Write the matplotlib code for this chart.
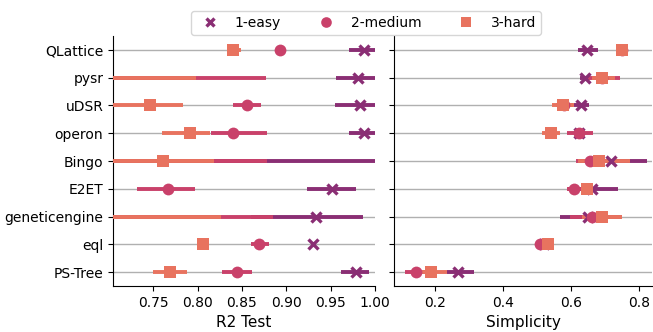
import numpy as np
import matplotlib.pyplot as plt

methods = ['QLattice', 'pysr', 'uDSR', 'operon', 'Bingo', 'E2ET',
           'geneticengine', 'eql', 'PS-Tree']
levels = ['1-easy', '2-medium', '3-hard']
colors = ['#8a2e74', '#c9416a', '#e8735f']
markers = ['x', 'o', 's']

# R2 test: mean, lower and upper ends of the interval, per difficulty
r2_mean = {
    '1-easy':   [0.988, 0.981, 0.983, 0.988, 0.60, 0.952, 0.934, 0.930, 0.979],
    '2-medium': [0.893, 0.55, 0.856, 0.840, 0.55, 0.767, 0.50, 0.869, 0.844],
    '3-hard':   [0.840, 0.40, 0.746, 0.791, 0.761, 0.40, 0.30, 0.806, 0.769],
}
r2_lo = {
    '1-easy':   [0.971, 0.956, 0.955, 0.971, 0.20, 0.923, 0.860, 0.929, 0.962],
    '2-medium': [0.889, 0.10, 0.840, 0.815, 0.10, 0.732, 0.00, 0.860, 0.828],
    '3-hard':   [0.834, -0.20, 0.60, 0.760, 0.60, 0.20, -0.50, 0.805, 0.750],
}
r2_hi = {
    '1-easy':   [1.005, 1.005, 1.005, 1.005, 1.005, 0.979, 0.986, 0.931, 0.993],
    '2-medium': [0.897, 0.877, 0.872, 0.878, 0.878, 0.7965, 0.885, 0.880, 0.861],
    '3-hard':   [0.849, 0.798, 0.783, 0.8145, 0.818, 0.60, 0.826, 0.807, 0.788],
}

# Simplicity: mean, lower and upper ends of the interval, per difficulty
simp_mean = {
    '1-easy':   [0.647, 0.641, 0.628, 0.623, 0.717, 0.660, 0.650, 0.520, 0.267],
    '2-medium': [0.748, 0.690, 0.580, 0.623, 0.655, 0.609, 0.660, 0.508, 0.146],
    '3-hard':   [0.748, 0.691, 0.577, 0.541, 0.683, 0.647, 0.690, 0.533, 0.190],
}
simp_lo = {
    '1-easy':   [0.619, 0.626, 0.609, 0.610, 0.640, 0.590, 0.567, 0.515, 0.236],
    '2-medium': [0.740, 0.650, 0.555, 0.587, 0.613, 0.587, 0.596, 0.505, 0.112],
    '3-hard':   [0.740, 0.660, 0.543, 0.515, 0.621, 0.630, 0.633, 0.530, 0.151],
}
simp_hi = {
    '1-easy':   [0.678, 0.655, 0.652, 0.640, 0.822, 0.738, 0.740, 0.525, 0.3155],
    '2-medium': [0.756, 0.743, 0.605, 0.665, 0.700, 0.630, 0.750, 0.511, 0.180],
    '3-hard':   [0.756, 0.7286, 0.609, 0.567, 0.7727, 0.665, 0.750, 0.536, 0.236],
}

fig = plt.figure(figsize=(6.53, 3.32), dpi=100)
ax1 = fig.add_axes([113 / 653, 46 / 332, 262 / 653, 250 / 332])
ax2 = fig.add_axes([394 / 653, 46 / 332, 258 / 653, 250 / 332])

y = np.arange(len(methods))


def draw(ax, mean, lo, hi):
    for lev, c, m in zip(levels, colors, markers):
        mu = np.array(mean[lev])
        err = np.vstack([mu - np.array(lo[lev]), np.array(hi[lev]) - mu])
        ax.errorbar(mu, y, xerr=err, fmt='none', ecolor=c, elinewidth=2.8,
                    capsize=0, zorder=3)
        if m == 'x':
            ax.plot(mu, y, ls='none', marker=m, color=c, ms=7, mew=2.4,
                    zorder=4, label=lev)
        else:
            ax.plot(mu, y, ls='none', marker=m, color=c, ms=8.5, mew=0,
                    zorder=4, label=lev)
    ax.set_yticks(y)
    ax.set_ylim(len(methods) - 0.5, -0.5)
    ax.grid(axis='y', color='#b0b0b0', lw=1, zorder=0)
    ax.set_axisbelow(True)
    ax.spines['top'].set_visible(False)
    ax.spines['right'].set_visible(False)
    ax.tick_params(labelsize=10)


draw(ax1, r2_mean, r2_lo, r2_hi)
draw(ax2, simp_mean, simp_lo, simp_hi)

ax1.set_yticklabels(methods)
ax1.set_xlim(0.7046, 1.0)
ax1.set_xticks([0.75, 0.80, 0.85, 0.90, 0.95, 1.00])
ax1.set_xlabel('R2 Test', fontsize=11)

ax2.set_yticklabels([])
ax2.set_xlim(0.0805, 0.837)
ax2.set_xticks([0.2, 0.4, 0.6, 0.8])
ax2.set_xlabel('Simplicity', fontsize=11)

handles, labels = ax1.get_legend_handles_labels()
fig.legend(handles, labels, loc='upper center', ncol=3,
           bbox_to_anchor=(366 / 653, 1 - 4 / 332), fontsize=10,
           columnspacing=2.2, handletextpad=0.8, markerscale=0.9,
           borderpad=0.35)

fig.savefig('out.png', dpi=100)
